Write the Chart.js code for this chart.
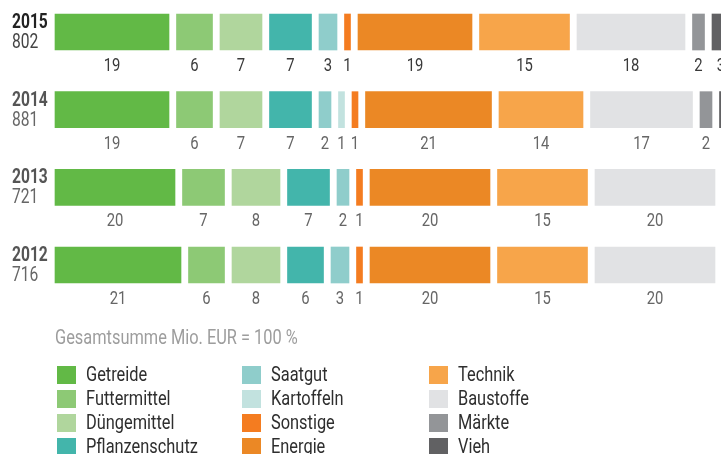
<!DOCTYPE html>
<html lang="de">
<head>
<meta charset="utf-8">
<title>Umsatzanteile</title>
<script src="https://cdn.jsdelivr.net/npm/chart.js@4.4.1/dist/chart.umd.min.js"></script>
<style>
  body { margin: 0; background: #fff; }
  #wrap { position: relative; width: 721px; height: 454px; overflow: hidden; font-family: Roboto, sans-serif; }
  #chartBox { position: absolute; left: 0; top: 0; width: 721px; height: 454px; }
  /* no condensed face installed, so the text is squeezed horizontally */
  .narrow { display: inline-block; transform: scaleX(0.78); transform-origin: 0 0; white-space: nowrap; }
  #note { position: absolute; left: 55px; top: 325px; font-size: 21px; line-height: 24px; color: #9d9d9d; }
  .item { position: absolute; height: 24px; font-size: 21px; line-height: 24px; color: #2e2e2e; }
  .item i { position: absolute; left: 0; top: 4px; width: 19px; height: 18px; }
  .item span { position: absolute; left: 29px; top: 0; }
</style>
</head>
<body>
<div id="wrap">
  <div id="chartBox"><canvas id="chart"></canvas></div>
  <div id="note"><span class="narrow">Gesamtsumme Mio. EUR = 100 %</span></div>
  <div id="legend"></div>
</div>
<script>
const FONT = 'Roboto, sans-serif';
const SQUEEZE = 0.78;

const years = ['2015', '2014', '2013', '2012'];
const totals = ['802', '881', '721', '716'];

const categories = ['Getreide', 'Futtermittel', 'Düngemittel', 'Pflanzenschutz', 'Saatgut', 'Kartoffeln',
  'Sonstige', 'Energie', 'Technik', 'Baustoffe', 'Märkte', 'Vieh'];
const colors = ['#62b946', '#8dc975', '#b0d69d', '#43b5ab', '#8fcdcb', '#c2e2df',
  '#f47c20', '#eb8825', '#f7a54a', '#e1e2e4', '#939598', '#616163'];

// shares in % per year (2015, 2014, 2013, 2012)
const getreide = [19, 19, 20, 21];
const futtermittel = [6, 6, 7, 6];
const duengemittel = [7, 7, 8, 8];
const pflanzenschutz = [7, 7, 7, 6];
const saatgut = [3, 2, 2, 3];
const kartoffeln = [0, 1, 0, 0];
const sonstige = [1, 1, 1, 1];
const energie = [19, 21, 20, 20];
const technik = [15, 14, 15, 15];
const baustoffe = [18, 17, 20, 20];
const maerkte = [2, 2, 0, 0];
const vieh = [3, 3, 0, 0];

const series = [getreide, futtermittel, duengemittel, pflanzenschutz, saatgut, kartoffeln,
  sonstige, energie, technik, baustoffe, maerkte, vieh];

const GAP = 1.25; // white space between segments, in percent units

// floating bars: each segment starts after the previous one plus a gap
const ranges = series.map(() => []);
years.forEach((y, row) => {
  let pos = 0;
  series.forEach((s, k) => {
    const v = s[row];
    if (!v) { ranges[k].push(null); return; }
    ranges[k].push([pos, pos + v]);
    pos += v + GAP;
  });
});

const datasets = categories.map((name, k) => ({
  label: name,
  data: ranges[k],
  values: series[k],
  backgroundColor: colors[k],
  borderWidth: 0,
  barThickness: 36,
  grouped: false,
  clip: false
}));

function narrowText(ctx, text, x, y, align) {
  const w = ctx.measureText(text).width * SQUEEZE;
  const left = align === 'center' ? x - w / 2 : x;
  ctx.save();
  ctx.translate(left, y);
  ctx.scale(SQUEEZE, 1);
  ctx.textAlign = 'left';
  ctx.fillText(text, 0, 0);
  ctx.restore();
}

const segmentLabels = {
  id: 'segmentLabels',
  afterDatasetsDraw(chart) {
    const ctx = chart.ctx;
    ctx.save();
    ctx.textBaseline = 'alphabetic';
    ctx.font = '19px ' + FONT;
    chart.data.datasets.forEach((ds, k) => {
      chart.getDatasetMeta(k).data.forEach((bar, row) => {
        const v = ds.values[row];
        if (!v) return;
        ctx.fillStyle = row === 0 ? '#3a3a3a' : '#666';
        narrowText(ctx, String(v), (bar.x + bar.base) / 2, bar.y + 39, 'center');
      });
    });
    // year and total on the left
    const yScale = chart.scales.y;
    years.forEach((yr, row) => {
      const cy = yScale.getPixelForValue(row);
      ctx.font = 'bold 20px ' + FONT;
      ctx.fillStyle = row === 0 ? '#222' : '#555';
      narrowText(ctx, yr, 12, cy - 4, 'left');
      ctx.font = '20px ' + FONT;
      ctx.fillStyle = row === 0 ? '#444' : '#666';
      narrowText(ctx, totals[row], 12, cy + 16, 'left');
    });
    ctx.restore();
  }
};

new Chart(document.getElementById('chart'), {
  type: 'bar',
  data: { labels: years, datasets: datasets },
  options: {
    indexAxis: 'y',
    responsive: true,
    maintainAspectRatio: false,
    animation: false,
    layout: { padding: { left: 55, right: 0, top: 32, bottom: 189 } },
    scales: {
      x: { min: 0, max: 111, display: false },
      y: { offset: false, display: false }
    },
    plugins: { legend: { display: false }, tooltip: { enabled: false } }
  },
  plugins: [segmentLabels]
});

// legend in three columns of four
const legend = document.getElementById('legend');
const colLeft = [57, 242, 429];
categories.forEach((name, k) => {
  const item = document.createElement('div');
  item.className = 'item';
  item.style.left = colLeft[Math.floor(k / 4)] + 'px';
  item.style.top = (362 + (k % 4) * 24) + 'px';
  item.innerHTML = '<i style="background:' + colors[k] + '"></i><span class="narrow">' + name + '</span>';
  legend.appendChild(item);
});
</script>
</body>
</html>
